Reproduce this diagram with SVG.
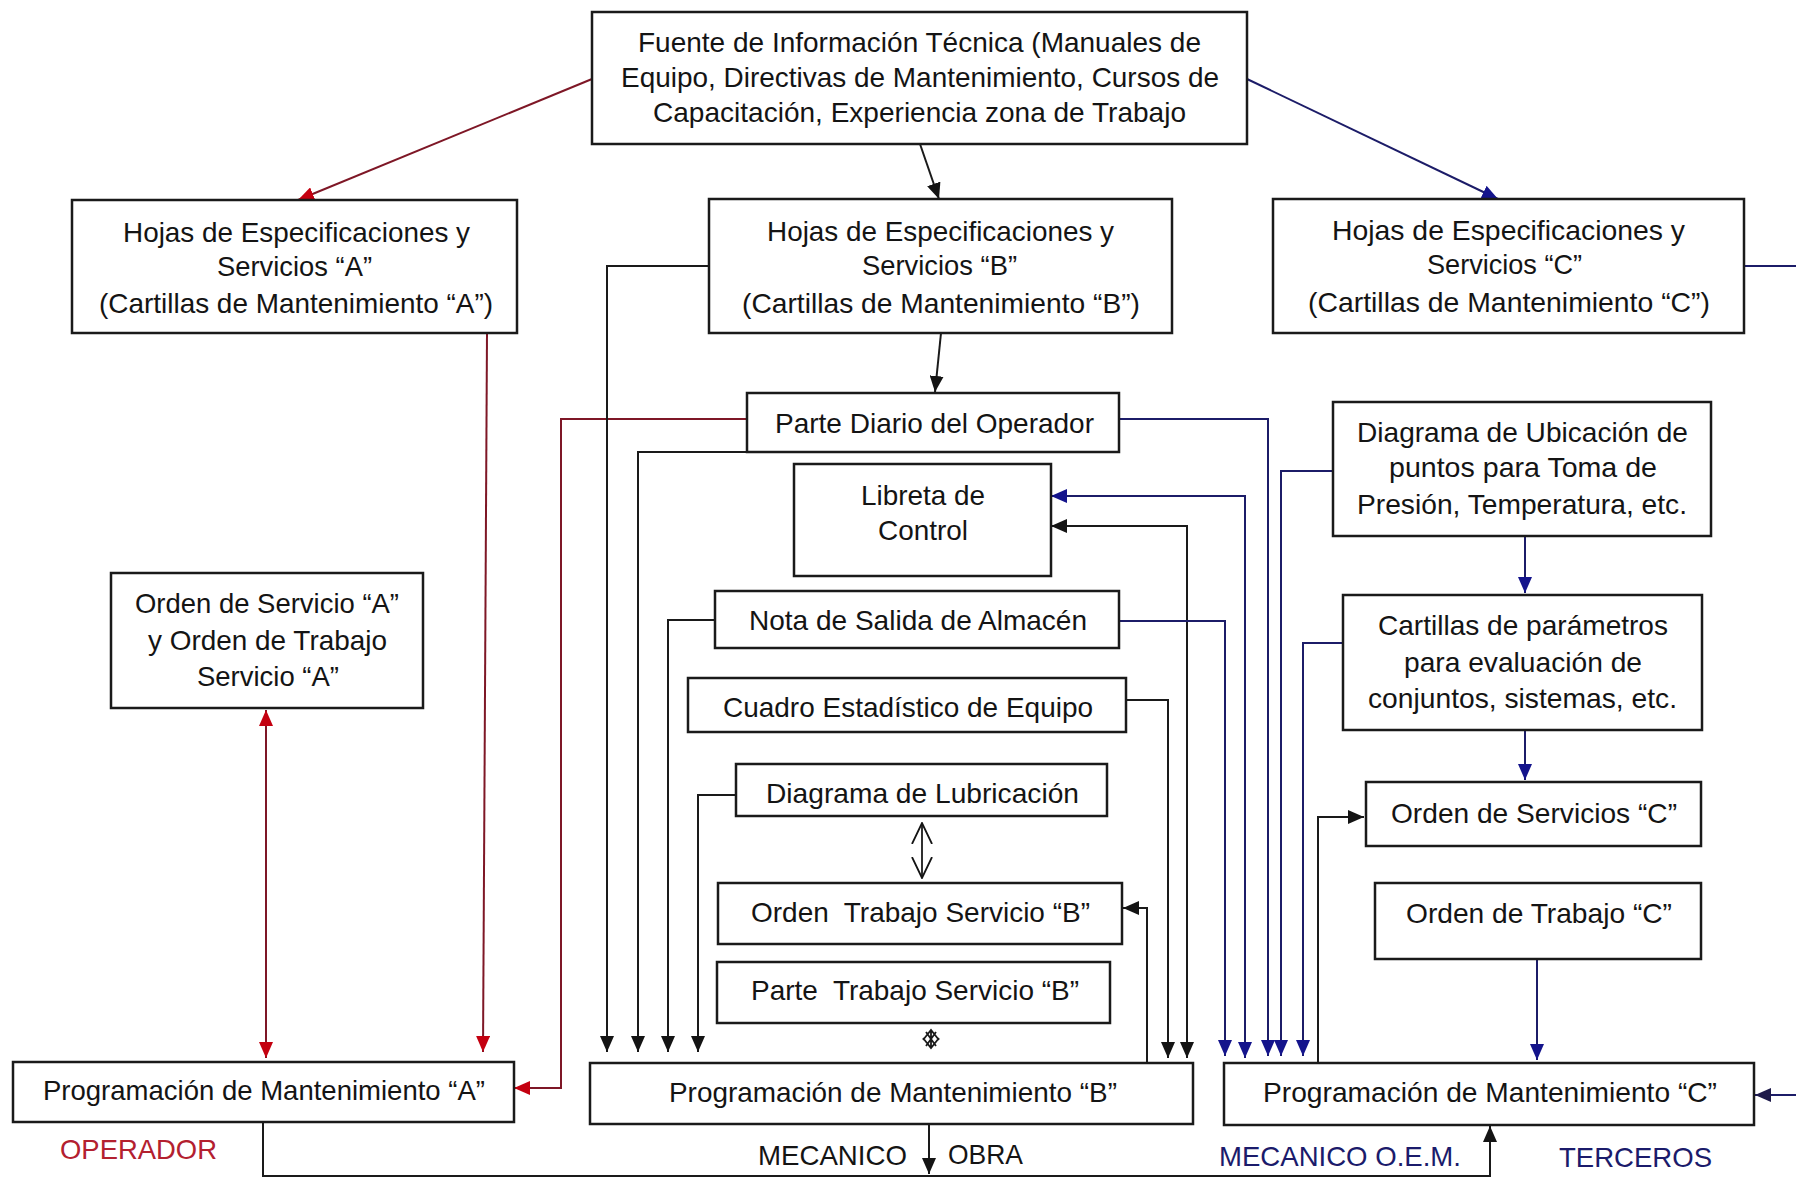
<svg xmlns="http://www.w3.org/2000/svg" width="1796" height="1181" viewBox="0 0 1796 1181">
  <style>
    .box { fill: #ffffff; stroke: #1a1a1a; stroke-width: 2.5; }
    .t { font-family: "Liberation Sans", Arial, sans-serif; font-size: 28px; fill: #141414; white-space: pre; }
    .k { fill: none; stroke: #1a1a1a; stroke-width: 2; }
    .r { fill: none; stroke: #7e1726; stroke-width: 2; }
    .n { fill: none; stroke: #1c1c68; stroke-width: 2; }
    .thin { fill: none; stroke: #1a1a1a; stroke-width: 1.8; }
    .lab-red { fill: #b3202f; }
    .lab-navy { fill: #1b1b6b; }
  </style>
  <defs>
    <marker id="ak" viewBox="0 0 16 14" refX="16" refY="7" markerWidth="16" markerHeight="14" markerUnits="userSpaceOnUse" orient="auto-start-reverse">
      <path d="M0,0 L16,7 L0,14 Z" fill="#141414"/>
    </marker>
    <marker id="ar" viewBox="0 0 16 14" refX="16" refY="7" markerWidth="16" markerHeight="14" markerUnits="userSpaceOnUse" orient="auto-start-reverse">
      <path d="M0,0 L16,7 L0,14 Z" fill="#c40010"/>
    </marker>
    <marker id="an" viewBox="0 0 16 14" refX="16" refY="7" markerWidth="16" markerHeight="14" markerUnits="userSpaceOnUse" orient="auto-start-reverse">
      <path d="M0,0 L16,7 L0,14 Z" fill="#14148c"/>
    </marker>
    <marker id="ad" viewBox="0 0 16 14" refX="16" refY="7" markerWidth="16" markerHeight="14" markerUnits="userSpaceOnUse" orient="auto-start-reverse">
      <path d="M0,0 L16,7 L0,14 Z" fill="#1e1a4a"/>
    </marker>
    <marker id="ao" viewBox="0 0 22 22" refX="21" refY="11" markerWidth="22" markerHeight="22" markerUnits="userSpaceOnUse" orient="auto-start-reverse">
      <path d="M0,1 L21,11 L0,21" fill="none" stroke="#141414" stroke-width="1.8"/>
    </marker>
  </defs>

  <!-- connectors -->
  <g id="connectors">
    <!-- from the technical information source -->
    <path class="r" d="M592,79 L298,200" marker-end="url(#ar)"/>
    <path class="k" d="M920,144 L939,199" marker-end="url(#ak)"/>
    <path class="n" d="M1247,79 L1498,199" marker-end="url(#an)"/>
    <path class="k" d="M941,333 L935,392" marker-end="url(#ak)"/>

    <!-- operator branch (A) -->
    <path class="r" d="M487,333 L483,1052" marker-end="url(#ar)"/>
    <path class="r" d="M266,710 V1058" marker-start="url(#ar)" marker-end="url(#ar)"/>
    <path class="r" d="M747,419 H561 V1088 H514" marker-end="url(#ar)"/>

    <!-- mechanic branch (B) inputs -->
    <path class="k" d="M709,266 H607 V1052" marker-end="url(#ak)"/>
    <path class="k" d="M747,452 H638 V1052" marker-end="url(#ak)"/>
    <path class="k" d="M715,620 H668 V1052" marker-end="url(#ak)"/>
    <path class="k" d="M736,795 H698 V1052" marker-end="url(#ak)"/>
    <path class="k" d="M1126,700 H1168 V1058" marker-end="url(#ak)"/>
    <path class="k" d="M1051,526 H1187 V1058" marker-start="url(#ak)" marker-end="url(#ak)"/>
    <path class="k" d="M1147,1063 V908 H1123" marker-end="url(#ak)"/>
    <path class="thin" d="M922,823 V878" marker-start="url(#ao)" marker-end="url(#ao)"/>
    <path class="thin" d="M923,1040 L931,1030 L939,1040 M923,1038 L931,1048 L939,1038 M931,1030 V1048 M926,1032 L936,1046 M936,1032 L926,1046"/>

    <!-- OEM branch (C) inputs -->
    <path class="n" d="M1119,621 H1225 V1056" marker-end="url(#an)"/>
    <path class="n" d="M1051,496 H1245 V1058" marker-start="url(#an)" marker-end="url(#an)"/>
    <path class="n" d="M1119,419 H1268 V1056" marker-end="url(#an)"/>
    <path class="n" d="M1333,471 H1281 V1056" marker-end="url(#an)"/>
    <path class="n" d="M1343,643 H1303 V1056" marker-end="url(#an)"/>
    <path class="n" d="M1525,536 V593" marker-end="url(#an)"/>
    <path class="n" d="M1525,730 V780" marker-end="url(#an)"/>
    <path class="n" d="M1537,959 V1060" marker-end="url(#an)"/>
    <path class="k" d="M1318,1062 V817 H1364" marker-end="url(#ak)"/>
    <path class="n" d="M1744,266 H1796"/>
    <path class="n" d="M1796,1095 H1755" stroke="#1e1a4a" marker-end="url(#ad)"/>

    <!-- bottom return line -->
    <path class="k" d="M263,1122 V1176 H1490 V1126" marker-end="url(#ak)"/>
    <path class="k" d="M929,1124 V1174" marker-end="url(#ak)"/>
  </g>

  <!-- nodes -->
  <g id="fuente">
    <rect class="box" x="592" y="12" width="655" height="132"/>
    <text class="t" x="638" y="52" textLength="563" lengthAdjust="spacingAndGlyphs">Fuente de Información Técnica (Manuales de</text>
    <text class="t" x="621" y="87" textLength="598" lengthAdjust="spacingAndGlyphs">Equipo, Directivas de Mantenimiento, Cursos de</text>
    <text class="t" x="653" y="122" textLength="533" lengthAdjust="spacingAndGlyphs">Capacitación, Experiencia zona de Trabajo</text>
  </g>

  <g id="hojas-a">
    <rect class="box" x="72" y="200" width="445" height="133"/>
    <text class="t" x="123" y="242" textLength="347" lengthAdjust="spacingAndGlyphs">Hojas de Especificaciones y</text>
    <text class="t" x="217" y="276" textLength="155" lengthAdjust="spacingAndGlyphs">Servicios “A”</text>
    <text class="t" x="99" y="313" textLength="394" lengthAdjust="spacingAndGlyphs">(Cartillas de Mantenimiento “A”)</text>
  </g>

  <g id="hojas-b">
    <rect class="box" x="709" y="199" width="463" height="134"/>
    <text class="t" x="767" y="241" textLength="347" lengthAdjust="spacingAndGlyphs">Hojas de Especificaciones y</text>
    <text class="t" x="862" y="275" textLength="155" lengthAdjust="spacingAndGlyphs">Servicios “B”</text>
    <text class="t" x="742" y="313" textLength="398" lengthAdjust="spacingAndGlyphs">(Cartillas de Mantenimiento “B”)</text>
  </g>

  <g id="hojas-c">
    <rect class="box" x="1273" y="199" width="471" height="134"/>
    <text class="t" x="1332" y="240" textLength="353" lengthAdjust="spacingAndGlyphs">Hojas de Especificaciones y</text>
    <text class="t" x="1427" y="274" textLength="155" lengthAdjust="spacingAndGlyphs">Servicios “C”</text>
    <text class="t" x="1308" y="312" textLength="402" lengthAdjust="spacingAndGlyphs">(Cartillas de Mantenimiento “C”)</text>
  </g>

  <g id="parte-diario">
    <rect class="box" x="747" y="393" width="372" height="59"/>
    <text class="t" x="775" y="433" textLength="319" lengthAdjust="spacingAndGlyphs">Parte Diario del Operador</text>
  </g>

  <g id="libreta">
    <rect class="box" x="794" y="464" width="257" height="112"/>
    <text class="t" x="861" y="505" textLength="124" lengthAdjust="spacingAndGlyphs">Libreta de</text>
    <text class="t" x="878" y="540" textLength="90" lengthAdjust="spacingAndGlyphs">Control</text>
  </g>

  <g id="nota-salida">
    <rect class="box" x="715" y="591" width="404" height="57"/>
    <text class="t" x="749" y="630" textLength="338" lengthAdjust="spacingAndGlyphs">Nota de Salida de Almacén</text>
  </g>

  <g id="cuadro-estadistico">
    <rect class="box" x="688" y="678" width="438" height="54"/>
    <text class="t" x="723" y="717" textLength="370" lengthAdjust="spacingAndGlyphs">Cuadro Estadístico de Equipo</text>
  </g>

  <g id="diagrama-lubricacion">
    <rect class="box" x="736" y="764" width="371" height="52"/>
    <text class="t" x="766" y="803" textLength="313" lengthAdjust="spacingAndGlyphs">Diagrama de Lubricación</text>
  </g>

  <g id="orden-trabajo-b">
    <rect class="box" x="718" y="883" width="404" height="61"/>
    <text class="t" x="751" y="922" textLength="339" lengthAdjust="spacingAndGlyphs">Orden  Trabajo Servicio “B”</text>
  </g>

  <g id="parte-trabajo-b">
    <rect class="box" x="717" y="962" width="393" height="61"/>
    <text class="t" x="751" y="1000" textLength="328" lengthAdjust="spacingAndGlyphs">Parte  Trabajo Servicio “B”</text>
  </g>

  <g id="orden-servicio-a">
    <rect class="box" x="111" y="573" width="312" height="135"/>
    <text class="t" x="135" y="613" textLength="264" lengthAdjust="spacingAndGlyphs">Orden de Servicio “A”</text>
    <text class="t" x="148" y="650" textLength="239" lengthAdjust="spacingAndGlyphs">y Orden de Trabajo</text>
    <text class="t" x="197" y="686" textLength="142" lengthAdjust="spacingAndGlyphs">Servicio “A”</text>
  </g>

  <g id="diagrama-ubicacion">
    <rect class="box" x="1333" y="402" width="378" height="134"/>
    <text class="t" x="1357" y="442" textLength="331" lengthAdjust="spacingAndGlyphs">Diagrama de Ubicación de</text>
    <text class="t" x="1389" y="477" textLength="268" lengthAdjust="spacingAndGlyphs">puntos para Toma de</text>
    <text class="t" x="1357" y="514" textLength="330" lengthAdjust="spacingAndGlyphs">Presión, Temperatura, etc.</text>
  </g>

  <g id="cartillas-parametros">
    <rect class="box" x="1343" y="595" width="359" height="135"/>
    <text class="t" x="1378" y="635" textLength="290" lengthAdjust="spacingAndGlyphs">Cartillas de parámetros</text>
    <text class="t" x="1404" y="672" textLength="238" lengthAdjust="spacingAndGlyphs">para evaluación de</text>
    <text class="t" x="1368" y="708" textLength="309" lengthAdjust="spacingAndGlyphs">conjuntos, sistemas, etc.</text>
  </g>

  <g id="orden-servicios-c">
    <rect class="box" x="1366" y="782" width="335" height="64"/>
    <text class="t" x="1391" y="823" textLength="286" lengthAdjust="spacingAndGlyphs">Orden de Servicios “C”</text>
  </g>

  <g id="orden-trabajo-c">
    <rect class="box" x="1375" y="883" width="326" height="76"/>
    <text class="t" x="1406" y="923" textLength="266" lengthAdjust="spacingAndGlyphs">Orden de Trabajo “C”</text>
  </g>

  <g id="programacion-a">
    <rect class="box" x="13" y="1062" width="501" height="60"/>
    <text class="t" x="43" y="1100" textLength="442" lengthAdjust="spacingAndGlyphs">Programación de Mantenimiento “A”</text>
  </g>

  <g id="programacion-b">
    <rect class="box" x="590" y="1063" width="603" height="61"/>
    <text class="t" x="669" y="1102" textLength="448" lengthAdjust="spacingAndGlyphs">Programación de Mantenimiento “B”</text>
  </g>

  <g id="programacion-c">
    <rect class="box" x="1224" y="1063" width="530" height="62"/>
    <text class="t" x="1263" y="1102" textLength="454" lengthAdjust="spacingAndGlyphs">Programación de Mantenimiento “C”</text>
  </g>

  <!-- responsible parties -->
  <g id="labels">
    <text class="t lab-red" x="60" y="1159" textLength="157" lengthAdjust="spacingAndGlyphs">OPERADOR</text>
    <text class="t" x="758" y="1165" textLength="149" lengthAdjust="spacingAndGlyphs">MECANICO</text>
    <text class="t" x="948" y="1164" textLength="75" lengthAdjust="spacingAndGlyphs">OBRA</text>
    <text class="t lab-navy" x="1219" y="1166" textLength="242" lengthAdjust="spacingAndGlyphs">MECANICO O.E.M.</text>
    <text class="t lab-navy" x="1559" y="1167" textLength="153" lengthAdjust="spacingAndGlyphs">TERCEROS</text>
  </g>
</svg>
